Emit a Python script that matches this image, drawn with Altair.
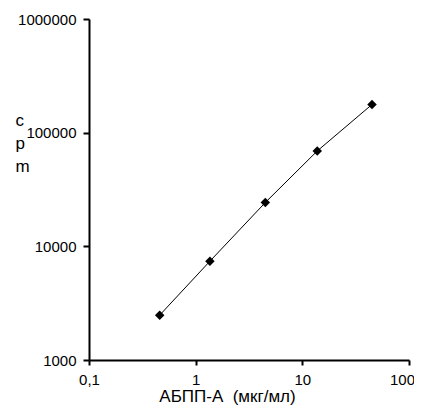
import altair as alt
import pandas as pd

conc = [0.46, 1.36, 4.5, 13.8, 45.0]
cpm = [2480, 7400, 24300, 69000, 177000]
x_ticks = [0.1, 1, 10, 100]
y_ticks = [1000, 10000, 100000, 1000000]

df = pd.DataFrame({"conc": conc, "cpm": cpm})

FONT = "Liberation Sans"

x_enc = alt.X(
    "conc:Q",
    scale=alt.Scale(type="log", domain=[0.1, 100], nice=False),
    axis=alt.Axis(
        values=x_ticks,
        labelExpr="replace(format(datum.value, '~r'), '.', ',')",
        labelOffset={"condition": {"test": "datum.value >= 100", "value": -7}, "value": 0},
        title="АБПП-А\u00a0\u00a0(мкг/мл)",
        titleX=138,
        titleY=41,
        titleBaseline="alphabetic",
        titleAlign="center",
        titleFontWeight="normal",
        titleFontSize=17,
        grid=False,
        labelFlush=False,
        labelPadding=7,
        tickSize=5,
    ),
)
y_enc = alt.Y(
    "cpm:Q",
    scale=alt.Scale(type="log", domain=[1000, 1000000], nice=False),
    axis=alt.Axis(
        values=y_ticks,
        format="d",
        title=["c", "p", "m"],
        titleAngle=0,
        titleX=-74,
        titleY=93,
        titleAlign="left",
        titleBaseline="top",
        titleLineHeight=23,
        titleFontWeight="normal",
        titleFontSize=17,
        grid=False,
        labelFlush=False,
        labelPadding=7,
        tickSize=6,
    ),
)

line = alt.Chart(df).mark_line(color="black", strokeWidth=1).encode(x=x_enc, y=y_enc)
pts = alt.Chart(df).mark_point(shape="diamond", filled=True, color="black", size=90, opacity=1).encode(
    x=x_enc, y=y_enc
)

chart = (
    alt.layer(line, pts)
    .properties(
        width=320,
        height=341,
        autosize=alt.AutoSizeParams(type="none"),
        padding={"left": 81, "top": 11, "right": 5, "bottom": 46},
    )
    .configure_view(stroke=None)
    .configure_axis(
        domainColor="black",
        domainWidth=2,
        tickColor="black",
        tickWidth=2,
        labelFont=FONT,
        titleFont=FONT,
        labelFontSize=15,
        labelColor="black",
        titleColor="black",
    )
)

chart.save("out.html", embed_options={"renderer": "svg", "actions": False})
